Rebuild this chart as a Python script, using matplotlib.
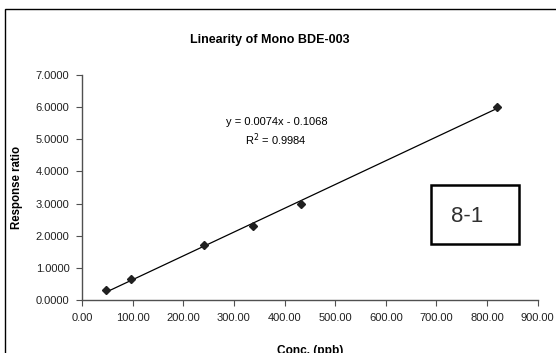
import numpy as np
import matplotlib
matplotlib.use("Agg")
import matplotlib.pyplot as plt
from matplotlib.patches import Rectangle

plt.rcParams['font.family'] = ['Liberation Sans', 'DejaVu Sans']

conc = [47, 96, 240, 337, 433, 819]
ratio = [0.30, 0.65, 1.71, 2.29, 2.99, 6.01]
slope = 0.0074
intercept = -0.1068
x_ticks = [0, 100, 200, 300, 400, 500, 600, 700, 800, 900]
y_ticks = [0, 1, 2, 3, 4, 5, 6, 7]

fig = plt.figure(figsize=(5.56, 3.53), dpi=100)
ax = fig.add_axes([0.1475, 0.150, 0.8195, 0.6375])

# trend line over the measured range
xl = np.array([min(conc), max(conc)])
ax.plot(xl, slope * xl + intercept, color='black', lw=0.9)
ax.plot(conc, ratio, linestyle='none', marker='D', ms=3.8, color='#202020')

ax.set_xlim(0, 900)
ax.set_ylim(0, 7)
ax.set_xticks(x_ticks)
ax.set_yticks(y_ticks)
ax.set_xticklabels(['%.2f' % v for v in x_ticks])
ax.set_yticklabels(['%.4f' % v for v in y_ticks])
for s in ['top', 'right']:
    ax.spines[s].set_visible(False)
for s in ['left', 'bottom']:
    ax.spines[s].set_color('#505050')
    ax.spines[s].set_linewidth(1.0)
ax.tick_params(direction='out', length=4, width=0.8, color='#505050',
               labelsize=8, labelcolor='#202020', pad=5)

ax.set_xlabel('Conc. (ppb)', fontsize=8.6, fontweight='bold', labelpad=16)
ax.set_ylabel('Response ratio', fontsize=8.3, fontweight='bold', labelpad=9)
fig.text(0.486, 0.887, 'Linearity of Mono BDE-003', ha='center', va='center',
         fontsize=9, fontweight='bold')

fig.text(276.5 / 556, 1 - 121.7 / 353, 'y = 0.0074x - 0.1068', ha='center',
         va='center', fontsize=8)
fig.text(276 / 556, 1 - 140 / 353, 'R$^2$ = 0.9984', ha='center',
         va='center', fontsize=8)

# label box
fig.patches.append(Rectangle((431 / 556, 1 - 244 / 353), 87.5 / 556, 59.5 / 353,
                             transform=fig.transFigure, fill=False,
                             edgecolor='black', lw=1.8))
fig.text(467 / 556, 1 - 217 / 353, '8-1', ha='center', va='center',
         fontsize=16, color='#303030')

# outer chart frame
fig.patches.append(Rectangle((5 / 556, -0.2), 1.2, 0.2 + 1 - 9 / 353,
                             transform=fig.transFigure, fill=False,
                             edgecolor='black', lw=1.0))

fig.savefig('out.png', dpi=100)
